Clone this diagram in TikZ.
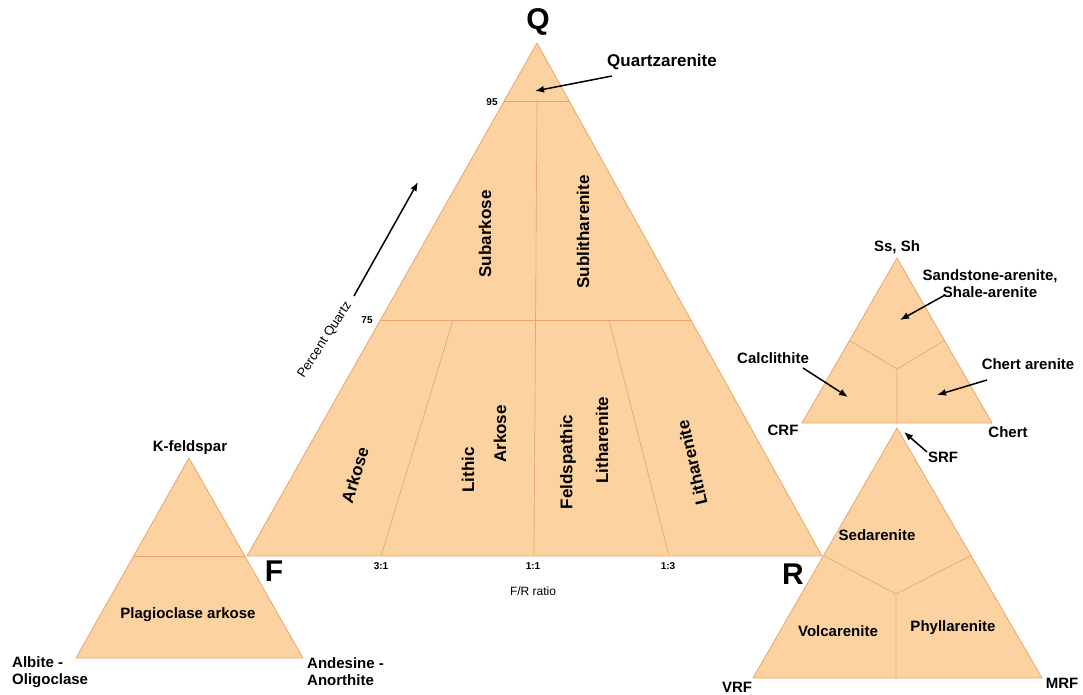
\documentclass[tikz,border=0pt]{standalone}
\usepackage{fontspec}
\setmainfont{Liberation Sans}
\usetikzlibrary{calc,arrows.meta}
\definecolor{tfill}{HTML}{FCD3A0}
\definecolor{tedge}{HTML}{E9A66C}
\begin{document}
\begin{tikzpicture}[x=1pt,y=-1pt,
  tri/.style={fill=tfill,draw=tedge,line width=0.8pt,line join=round},
  div/.style={draw=tedge,line width=0.7pt},
  lbl/.style={font=\bfseries\fontsize{15}{17}\selectfont,inner sep=1pt},
  reg/.style={font=\bfseries\fontsize{17}{19}\selectfont,inner sep=1pt},
  small/.style={font=\bfseries\fontsize{10}{12}\selectfont,inner sep=1pt},
  big/.style={font=\bfseries\fontsize{30}{32}\selectfont,inner sep=1pt},
  arr/.style={-{Latex[length=9pt,width=7pt]},line width=1.5pt,black}]
\useasboundingbox (0,0) rectangle (1083,695);
% main triangle
\coordinate (Q) at (537,43);
\coordinate (F) at (247,556);
\coordinate (R) at (822,556);
\draw[tri] (Q) -- (F) -- (R) -- cycle;
\coordinate (q95l) at ($(Q)!0.113!(F)$);
\coordinate (q95r) at ($(Q)!0.113!(R)$);
\coordinate (q75l) at ($(Q)!0.54!(F)$);
\coordinate (q75r) at ($(Q)!0.54!(R)$);
\draw[div] (q95l) -- (q95r);
\draw[div] (q75l) -- (q75r);
\coordinate (v1) at (537,101);
\coordinate (v2) at (534,556);
\draw[div] (v1) -- (v2);
\coordinate (a1) at (453,320);
\coordinate (a2) at (381,556);
\draw[div] (a1) -- (a2);
\coordinate (b1) at (609,320);
\coordinate (b2) at (669,556);
\draw[div] (b1) -- (b2);
% left triangle
\coordinate (K) at (189,458);
\coordinate (AO) at (76,658);
\coordinate (AA) at (303,658);
\draw[tri] (K) -- (AO) -- (AA) -- cycle;
\coordinate (kl) at ($(K)!0.49!(AO)$);
\coordinate (kr) at ($(K)!0.49!(AA)$);
\draw[div] (kl) -- (kr);
% upper right triangle
\coordinate (S) at (897,258);
\coordinate (CRF) at (802,423);
\coordinate (CH) at (992,423);
\draw[tri] (S) -- (CRF) -- (CH) -- cycle;
\coordinate (sc) at (897,369);
\coordinate (sl) at ($(S)!0.5!(CRF)$);
\coordinate (sr) at ($(S)!0.5!(CH)$);
\coordinate (sb) at (897,423);
\draw[div] (sl) -- (sc) -- (sr) (sc) -- (sb);
% lower right triangle
\coordinate (SRF) at (897,428);
\coordinate (VRF) at (753,678);
\coordinate (MRF) at (1042,678);
\draw[tri] (SRF) -- (VRF) -- (MRF) -- cycle;
\coordinate (rc) at (896,594);
\coordinate (rl) at ($(SRF)!0.51!(VRF)$);
\coordinate (rr) at ($(SRF)!0.51!(MRF)$);
\coordinate (rb) at (896,678);
\draw[div] (rl) -- (rc) -- (rr) (rc) -- (rb);
% corner labels
\node[big] (nQ) at (538,22) {Q};
\node[big] (nF) at (274,571) {F};
\node[big] (nR) at (793,574) {R};
\node[small] (n95) at (492,102) {95};
\node[small] (n75) at (367,320) {75};
\node[small] (n31) at (381,566) {3:1};
\node[small] (n11) at (533,566) {1:1};
\node[small] (n13) at (668,566) {1:3};
\node[font=\fontsize{12}{14}\selectfont] (nfr) at (533,591) {F/R ratio};
% percent quartz
\node[font=\fontsize{13}{15}\selectfont,rotate=57,inner sep=0pt] (pq) at (325,340) {Percent Quartz};
\coordinate (pqa) at (354,296);
\coordinate (pqb) at (418,182);
\draw[arr] (pqa) -- (pqb);
% quartzarenite
\node[reg] (qa) at (662,62) {Quartzarenite};
\coordinate (qat) at (612,76);
\coordinate (qah) at (535,91);
\draw[arr] (qat) -- (qah);
% region labels
\node[reg,rotate=90] (sub) at (485,234) {Subarkose};
\node[reg,rotate=90] (subl) at (583,232) {Sublitharenite};
\node[reg,rotate=73] (ark) at (355,475) {Arkose};
\node[reg,rotate=90] (lith) at (468,470) {Lithic};
\node[reg,rotate=90] (lark) at (500,434) {Arkose};
\node[reg,rotate=90] (feld) at (568,462) {Feldspathic};
\node[reg,rotate=90] (flit) at (602,440) {Litharenite};
\node[reg,rotate=103] (lit) at (692,463) {Litharenite};
% left triangle labels
\node[lbl] (kf) at (190,448) {K-feldspar};
\node[lbl] (pa) at (188,615) {Plagioclase arkose};
\node[lbl,align=left,anchor=west] (ao) at (11,672) {Albite -\\Oligoclase};
\node[lbl,align=left,anchor=west] (aa) at (306,672) {Andesine -\\Anorthite};
% upper right labels
\node[lbl] (ss) at (897,247) {Ss, Sh};
\node[lbl,align=center] (sa) at (990,284) {Sandstone-arenite,\\Shale-arenite};
\node[lbl] (cc) at (773,358) {Calclithite};
\node[lbl] (ca) at (1028,364) {Chert arenite};
\node[lbl] (ncrf) at (783,430) {CRF};
\node[lbl] (nch) at (1008,432) {Chert};
\coordinate (sat) at (945,295);
\coordinate (sah) at (900,320);
\draw[arr] (sat) -- (sah);
\coordinate (cct) at (803,368);
\coordinate (cch) at (848,397);
\draw[arr] (cct) -- (cch);
\coordinate (cat) at (987,380);
\coordinate (cah) at (937,395);
\draw[arr] (cat) -- (cah);
% lower right labels
\node[lbl] (sed) at (877,535) {Sedarenite};
\node[lbl] (vol) at (838,631) {Volcarenite};
\node[lbl] (phy) at (953,628) {Phyllarenite};
\node[lbl] (nvrf) at (737,687) {VRF};
\node[lbl] (nmrf) at (1062,683) {MRF};
\node[lbl] (nsrf) at (943,457) {SRF};
\coordinate (srt) at (927,452);
\coordinate (srh) at (904,432);
\draw[arr] (srt) -- (srh);
\end{tikzpicture}
\end{document}
